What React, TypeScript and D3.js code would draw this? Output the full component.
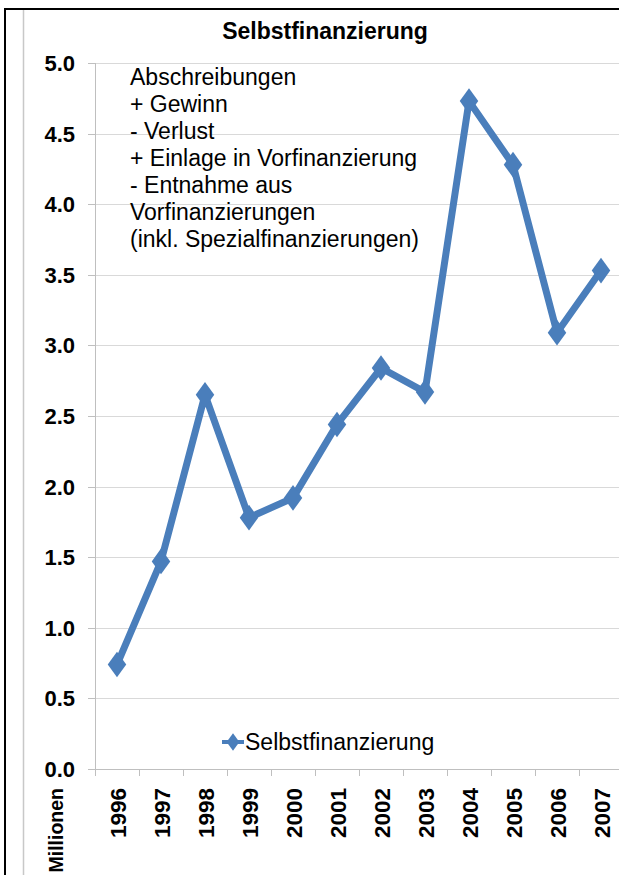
import React, { useEffect, useRef } from 'react';
import * as d3 from 'd3';

const years = ['1996', '1997', '1998', '1999', '2000', '2001', '2002', '2003', '2004', '2005', '2006', '2007'];
const selbstfinanzierung = [0.74, 1.47, 2.65, 1.78, 1.92, 2.44, 2.84, 2.67, 4.73, 4.28, 3.09, 3.53];
const yTicks = [0, 0.5, 1, 1.5, 2, 2.5, 3, 3.5, 4, 4.5, 5];
const noteLines = [
    'Abschreibungen',
    '+ Gewinn',
    '- Verlust',
    '+ Einlage in Vorfinanzierung',
    '- Entnahme aus',
    'Vorfinanzierungen',
    '(inkl. Spezialfinanzierungen)',
];

const WIDTH = 619;
const HEIGHT = 875;
const FONT = 'Liberation Sans, Arial, sans-serif';
const BLUE = '#4a7ebb';

function LineChart() {
    const ref = useRef<SVGSVGElement>(null);

    useEffect(() => {
        const svg = d3.select(ref.current);
        svg.selectAll('*').remove();

        const x = d3.scaleBand().domain(years).range([95, 623]);
        const y = d3.scaleLinear().domain([0, 5]).range([769, 63]);

        svg.append('rect').attr('width', WIDTH).attr('height', HEIGHT).attr('fill', '#fff');

        // frame
        svg.append('line').attr('x1', 23.5).attr('x2', 23.5).attr('y1', 10).attr('y2', HEIGHT)
            .attr('stroke', '#c8c8c8').attr('stroke-width', 1.5);
        svg.append('line').attr('x1', 4).attr('x2', WIDTH).attr('y1', 9).attr('y2', 9)
            .attr('stroke', '#000').attr('stroke-width', 2);
        svg.append('line').attr('x1', 5).attr('x2', 5).attr('y1', 8).attr('y2', HEIGHT)
            .attr('stroke', '#000').attr('stroke-width', 2);

        // gridlines + y ticks
        svg.append('g').selectAll('line')
            .data(yTicks.filter(d => d > 0))
            .enter().append('line')
            .attr('x1', 95).attr('x2', WIDTH)
            .attr('y1', d => Math.round(y(d)) + 0.5).attr('y2', d => Math.round(y(d)) + 0.5)
            .attr('stroke', '#d9d9d9').attr('stroke-width', 1.2);
        svg.append('g').selectAll('line')
            .data(yTicks)
            .enter().append('line')
            .attr('x1', 88).attr('x2', 95)
            .attr('y1', d => Math.round(y(d)) + 0.5).attr('y2', d => Math.round(y(d)) + 0.5)
            .attr('stroke', '#bfbfbf');
        svg.append('line').attr('x1', 95.5).attr('x2', 95.5).attr('y1', y(5)).attr('y2', y(0))
            .attr('stroke', '#bfbfbf');
        svg.append('line').attr('x1', 88).attr('x2', WIDTH).attr('y1', Math.round(y(0)) + 0.5).attr('y2', Math.round(y(0)) + 0.5)
            .attr('stroke', '#bfbfbf');

        // category ticks
        svg.append('g').selectAll('line')
            .data(years)
            .enter().append('line')
            .attr('x1', d => Math.round(x(d)!) + 0.5).attr('x2', d => Math.round(x(d)!) + 0.5)
            .attr('y1', y(0)).attr('y2', y(0) + 7)
            .attr('stroke', '#bfbfbf');

        svg.append('g').selectAll('text')
            .data(yTicks)
            .enter().append('text')
            .attr('x', 75).attr('y', d => y(d) + 8)
            .attr('text-anchor', 'end')
            .style('font-family', FONT).style('font-weight', 'bold').style('font-size', '22px')
            .text(d => d.toFixed(1));

        svg.append('g').selectAll('text')
            .data(years)
            .enter().append('text')
            .attr('transform', d => `translate(${x(d)! + x.bandwidth() / 2 + 8.5},788) rotate(-90)`)
            .attr('text-anchor', 'end')
            .style('font-family', FONT).style('font-weight', 'bold').style('font-size', '22.5px')
            .text(d => d);

        svg.append('text')
            .attr('transform', 'translate(63,788) rotate(-90)')
            .attr('text-anchor', 'end')
            .style('font-family', FONT).style('font-weight', 'bold').style('font-size', '19.5px')
            .text('Millionen');

        // title
        svg.append('text')
            .attr('x', 325).attr('y', 39)
            .attr('text-anchor', 'middle')
            .style('font-family', FONT).style('font-weight', 'bold').style('font-size', '23px')
            .text('Selbstfinanzierung');

        // note
        svg.append('g').selectAll('text')
            .data(noteLines)
            .enter().append('text')
            .attr('x', 130).attr('y', (d, i) => 85 + i * 27)
            .style('font-family', FONT).style('font-size', '23px')
            .text(d => d);

        // series
        const pts = years.map((yr, i) => [x(yr)! + x.bandwidth() / 2, y(selbstfinanzierung[i])] as [number, number]);
        svg.append('path')
            .attr('d', d3.line()(pts))
            .attr('fill', 'none')
            .attr('stroke', BLUE)
            .attr('stroke-width', 7)
            .attr('stroke-linejoin', 'miter');

        const diamond = d3.symbol().type(d3.symbolDiamond).size(190);
        svg.append('g').selectAll('path')
            .data(pts)
            .enter().append('path')
            .attr('transform', d => `translate(${d[0]},${d[1]}) scale(1.25,1)`)
            .attr('d', diamond)
            .attr('fill', BLUE);

        // legend
        svg.append('line').attr('x1', 222).attr('x2', 244).attr('y1', 742).attr('y2', 742)
            .attr('stroke', BLUE).attr('stroke-width', 4);
        svg.append('path')
            .attr('transform', 'translate(233,742) scale(1.25,1)')
            .attr('d', d3.symbol().type(d3.symbolDiamond).size(90)())
            .attr('fill', BLUE);
        svg.append('text')
            .attr('x', 245).attr('y', 750)
            .style('font-family', FONT).style('font-size', '23px')
            .text('Selbstfinanzierung');
    }, []);

    return (
        <svg ref={ref} width={WIDTH} height={HEIGHT}
            style={{ position: 'absolute', left: 0, top: 0, display: 'block' }}></svg>
    );
}

export default function App() {
    return <LineChart />;
}
